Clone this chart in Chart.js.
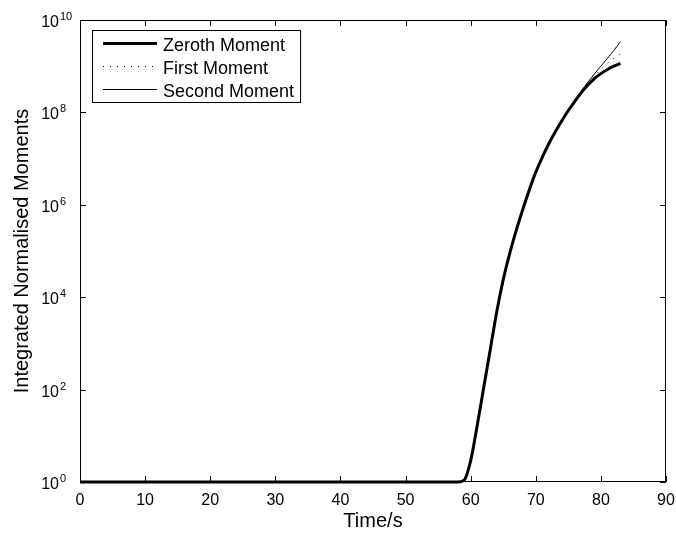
<!DOCTYPE html>
<html>
<head>
<meta charset="utf-8">
<title>Integrated Normalised Moments</title>
<script src="https://cdn.jsdelivr.net/npm/chart.js@4/dist/chart.umd.min.js"></script>
<style>
  html, body { margin: 0; padding: 0; background: #fff; }
  #wrap { width: 676px; height: 533px; }
</style>
</head>
<body>
<div id="wrap"><canvas id="c" width="676" height="533"></canvas></div>
<script>
// Sample times (s); the moments stay at 1 until about 58 s
const times = [0, 58, 59, 60, 61, 62, 63, 64, 65, 66, 67, 68, 69, 70,
               71, 72, 73, 74, 75, 76, 77, 78, 79, 80, 81, 82, 83];

const zerothMoment = [1, 1, 1.1, 2.9, 16.6, 110, 720, 4.8e3, 2.4e4, 8.9e4, 2.8e5, 7.9e5, 2.1e6, 5.1e6,
                      1.07e7, 2.1e7, 3.8e7, 6.6e7, 1.1e8, 1.74e8, 2.7e8, 3.9e8, 5.4e8, 6.9e8, 8.5e8, 1.0e9, 1.15e9];
const firstMoment  = [1, 1, 1.1, 2.9, 16.6, 110, 720, 4.8e3, 2.4e4, 8.9e4, 2.8e5, 7.9e5, 2.1e6, 5.1e6,
                      1.07e7, 2.1e7, 3.8e7, 6.6e7, 1.1e8, 1.74e8, 2.75e8, 4.1e8, 6.0e8, 8.5e8, 1.15e9, 1.48e9, 1.86e9];
const secondMoment = [1, 1, 1.1, 2.9, 16.6, 110, 720, 4.8e3, 2.4e4, 8.9e4, 2.8e5, 7.9e5, 2.1e6, 5.1e6,
                      1.07e7, 2.1e7, 3.8e7, 6.6e7, 1.1e8, 1.74e8, 2.9e8, 4.5e8, 6.8e8, 1.0e9, 1.48e9, 2.2e9, 3.4e9];

const seriesLabels = ['Zeroth Moment', 'First Moment', 'Second Moment'];
const xTickValues = [0, 10, 20, 30, 40, 50, 60, 70, 80, 90];
const yTickExponents = [0, 2, 4, 6, 8, 10];
const xAxisTitle = 'Time/s';
const yAxisTitle = 'Integrated Normalised Moments';

const FONT = '"Liberation Sans", Arial, Helvetica, sans-serif';

const toPoints = vals => times.map((t, i) => ({ x: t, y: vals[i] }));

// Box round the plot, inward tick marks, powers-of-ten labels and the legend
const frame = {
  id: 'frame',
  afterDatasetsDraw(chart) {
    const { ctx, chartArea: a, scales: { x, y } } = chart;
    ctx.save();
    ctx.strokeStyle = '#000';
    ctx.lineWidth = 1;
    ctx.strokeRect(a.left + 0.5, a.top + 0.5, a.right - a.left - 1, a.bottom - a.top - 1);

    const L = 6;
    ctx.beginPath();
    x.ticks.forEach(t => {
      const px = Math.round(x.getPixelForValue(t.value)) + 0.5;
      ctx.moveTo(px, a.bottom); ctx.lineTo(px, a.bottom - L);
      ctx.moveTo(px, a.top); ctx.lineTo(px, a.top + L);
    });
    y.ticks.forEach(t => {
      const py = Math.round(y.getPixelForValue(t.value)) + 0.5;
      ctx.moveTo(a.left, py); ctx.lineTo(a.left + L, py);
      ctx.moveTo(a.right, py); ctx.lineTo(a.right - L, py);
    });
    ctx.stroke();

    // y tick labels as 10 with a raised exponent
    ctx.fillStyle = '#000';
    ctx.textBaseline = 'alphabetic';
    yTickExponents.forEach(e => {
      const py = y.getPixelForValue(Math.pow(10, e));
      ctx.font = '16px ' + FONT;
      ctx.textAlign = 'right';
      ctx.fillText('10', a.left - 21, py + 7);
      ctx.font = '11px ' + FONT;
      ctx.textAlign = 'left';
      ctx.fillText(String(e), a.left - 20, py);
    });

    // legend
    const ds = chart.data.datasets;
    ctx.font = '18px ' + FONT;
    let maxW = 0;
    ds.forEach(d => { maxW = Math.max(maxW, ctx.measureText(d.label).width); });
    const bx = a.left + 12, by = a.top + 10;
    const sampleX0 = bx + 11, sampleX1 = bx + 65, textX = bx + 71;
    const rowH = 23;
    const bw = textX - bx + maxW + 6, bh = 72;
    ctx.fillStyle = '#fff';
    ctx.fillRect(bx, by, bw, bh);
    ctx.strokeStyle = '#000';
    ctx.lineWidth = 1;
    ctx.strokeRect(bx + 0.5, by + 0.5, bw, bh);
    ds.forEach((d, i) => {
      const ry = by + 13.5 + i * rowH;
      ctx.beginPath();
      ctx.strokeStyle = d.borderColor;
      ctx.lineWidth = d.borderWidth;
      ctx.setLineDash(d.borderDash || []);
      ctx.moveTo(sampleX0, ry); ctx.lineTo(sampleX1, ry);
      ctx.stroke();
      ctx.setLineDash([]);
      ctx.fillStyle = '#000';
      ctx.textAlign = 'left';
      ctx.fillText(d.label, textX, ry + 7);
    });
    ctx.restore();
  }
};

new Chart(document.getElementById('c'), {
  type: 'line',
  data: {
    datasets: [
      { label: seriesLabels[0], data: toPoints(zerothMoment), borderColor: '#000', borderWidth: 3, clip: false },
      { label: seriesLabels[1], data: toPoints(firstMoment), borderColor: '#000', borderWidth: 1, borderDash: [1, 6], clip: false },
      { label: seriesLabels[2], data: toPoints(secondMoment), borderColor: '#000', borderWidth: 1, clip: false }
    ]
  },
  options: {
    responsive: false,
    animation: false,
    devicePixelRatio: 1,
    layout: { padding: { top: 20, right: 10, left: 0, bottom: 0 } },
    elements: {
      point: { radius: 0, hoverRadius: 0 },
      line: { cubicInterpolationMode: 'monotone', fill: false, borderCapStyle: 'butt', borderJoinStyle: 'round' }
    },
    plugins: { legend: { display: false }, tooltip: { enabled: false } },
    scales: {
      x: {
        type: 'linear',
        min: 0, max: 90,
        afterBuildTicks: s => { s.ticks = xTickValues.map(v => ({ value: v })); },
        afterFit: s => { s.height = 51; s.paddingLeft = 0; s.paddingRight = 0; },
        grid: { display: false },
        border: { display: false },
        ticks: { color: '#000', font: { family: FONT, size: 16 }, padding: 1, maxRotation: 0 },
        title: { display: true, text: xAxisTitle, color: '#000', font: { family: FONT, size: 20 }, padding: { top: 0, bottom: 0 } }
      },
      y: {
        type: 'logarithmic',
        min: 1, max: 1e10,
        afterBuildTicks: s => { s.ticks = yTickExponents.map(e => ({ value: Math.pow(10, e) })); },
        afterFit: s => { s.width = 80; s.paddingTop = 0; s.paddingBottom = 0; },
        grid: { display: false },
        border: { display: false },
        ticks: { display: false },
        title: { display: true, text: yAxisTitle, color: '#000', font: { family: FONT, size: 20 }, padding: { top: 10, bottom: 0 } }
      }
    }
  },
  plugins: [frame]
});
</script>
</body>
</html>
